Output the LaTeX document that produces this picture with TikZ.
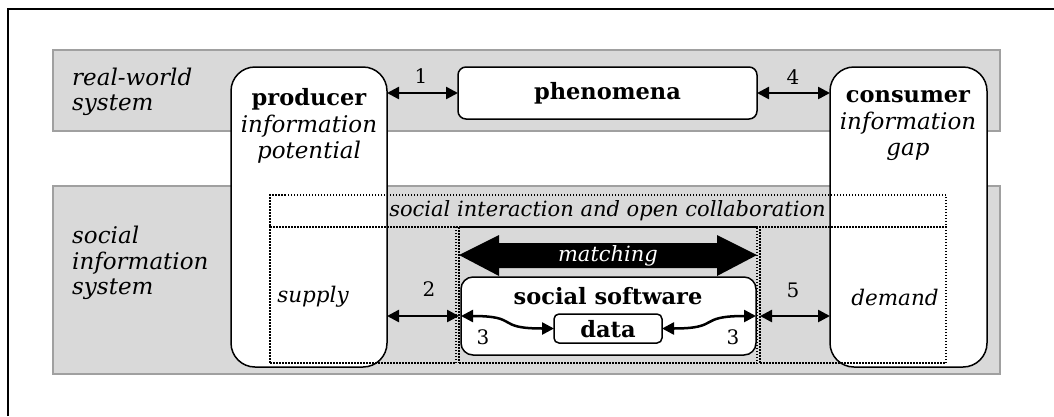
\documentclass[tikz,border=0pt]{standalone}
\usepackage{fontspec}
\setmainfont{DejaVu Serif}
\usetikzlibrary{arrows.meta}
\definecolor{bandfill}{HTML}{D9D9D9}
\definecolor{bandedge}{HTML}{A0A0A0}
\tikzset{
  bandbox/.style={fill=bandfill, draw=bandedge, line width=1.5pt},
  whitebox/.style={draw=black, fill=white, line width=1.5pt, inner sep=0pt, outer sep=0pt},
  dotbox/.style={draw=black, line width=1.5pt, dash pattern=on 1.5pt off 1.5pt, inner sep=0pt, outer sep=0pt},
  link/.style={line width=2.5pt, {Triangle[length=12pt,width=12pt]}-{Triangle[length=12pt,width=12pt]}},
  lbl/.style={font=\fontsize{23}{26.5}\selectfont, align=center, inner sep=0pt},
  lblleft/.style={font=\fontsize{23}{25.5}\selectfont, align=left, inner sep=0pt, anchor=west},
  boldlbl/.style={font=\fontsize{22.5}{26}\selectfont\bfseries, inner sep=0pt},
  midlbl/.style={font=\fontsize{21.5}{26}\selectfont\itshape, inner sep=0pt},
  num/.style={font=\fontsize{20}{20}\selectfont, inner sep=0pt},
}
\begin{document}
\begin{tikzpicture}[x=1pt,y=-1pt]
\useasboundingbox (0,0) rectangle (1054,416);
% outer frame (only top and left visible)
\draw[line width=2pt] (8,416) -- (8,9) -- (1054,9);
% bands
\draw[bandbox] (53,50) rectangle (1000,131);
\draw[bandbox] (53,186) rectangle (1000,374);
% big boxes
\node[whitebox, rounded corners=24pt, minimum width=156pt, minimum height=300pt] (producer) at (309,217) {};
\node[whitebox, rounded corners=24pt, minimum width=157pt, minimum height=300pt] (consumer) at (908.5,217) {};
\node[whitebox, rounded corners=8pt, minimum width=299pt, minimum height=52pt] (phenomena) at (607.5,93) {};
% dotted areas
\node[dotbox, minimum width=676pt, minimum height=32pt] (collab) at (608,211) {};
\node[dotbox, minimum width=186pt, minimum height=136pt] (supplycol) at (363,295) {};
\node[dotbox, minimum width=298pt, minimum height=136pt] (midcol) at (608,295) {};
\node[dotbox, minimum width=186pt, minimum height=136pt] (demandcol) at (853,295) {};
% social software and data
\node[whitebox, rounded corners=12pt, minimum width=295pt, minimum height=78pt] (sw) at (608.5,316) {};
\node[whitebox, rounded corners=5pt, minimum width=108pt, minimum height=29pt] (data) at (608,328.5) {};
% matching double arrow
\fill[black] (459,255) -- (499,235) -- (499,243) -- (717,243) -- (717,235) -- (757,255)
  -- (717,276) -- (717,268) -- (499,268) -- (499,276) -- cycle;
\node[midlbl, text=white, font=\fontsize{21}{26}\selectfont\itshape] (matching) at (608,256) {matching};
% texts
\node[lblleft] (rws) at (72,92) {\itshape real-world\\\itshape system};
\node[lblleft] (sis) at (72,263) {\itshape social\\\itshape information\\\itshape system};
\node[lbl] (prodtext) at (309,126) {\bfseries\fontsize{22.5}{26}\selectfont producer\\\itshape information\\\itshape potential};
\node[lbl] (constext) at (908,126) {\bfseries\fontsize{22.5}{26}\selectfont consumer\\\itshape information\\\itshape gap};
\node[boldlbl] (phentext) at (607.5,93) {phenomena};
\node[midlbl, font=\fontsize{21}{26}\selectfont\itshape] (collabtext) at (607.5,211) {social interaction and open collaboration};
\node[midlbl] (supply) at (313,297) {supply};
\node[midlbl] (demand) at (895,297) {demand};
\node[boldlbl] (swtext) at (608,296) {social software};
\node[boldlbl] (datatext) at (608,329) {data};
% connectors
\draw[link] (producer.east |- phenomena.west) -- (phenomena.west);
\draw[link] (phenomena.east) -- (phenomena.east -| consumer.west);
\draw[link] (producer.east |- sw.west) -- (midcol.west |- sw.west);
\draw[link] (demandcol.west |- sw.west) -- (consumer.west |- sw.west);
\draw[link] (sw.west) .. controls +(60,0) and +(-60,0) .. (data.west);
\draw[link] (data.east) .. controls +(60,0) and +(-60,0) .. (sw.east);
% numbers
\node[num] (n1) at (421,76) {1};
\node[num] (n4) at (793,77) {4};
\node[num] (n2) at (429,289) {2};
\node[num] (n5) at (793,290) {5};
\node[num] (n3a) at (483,337) {3};
\node[num] (n3b) at (733,337) {3};
\end{tikzpicture}
\end{document}
